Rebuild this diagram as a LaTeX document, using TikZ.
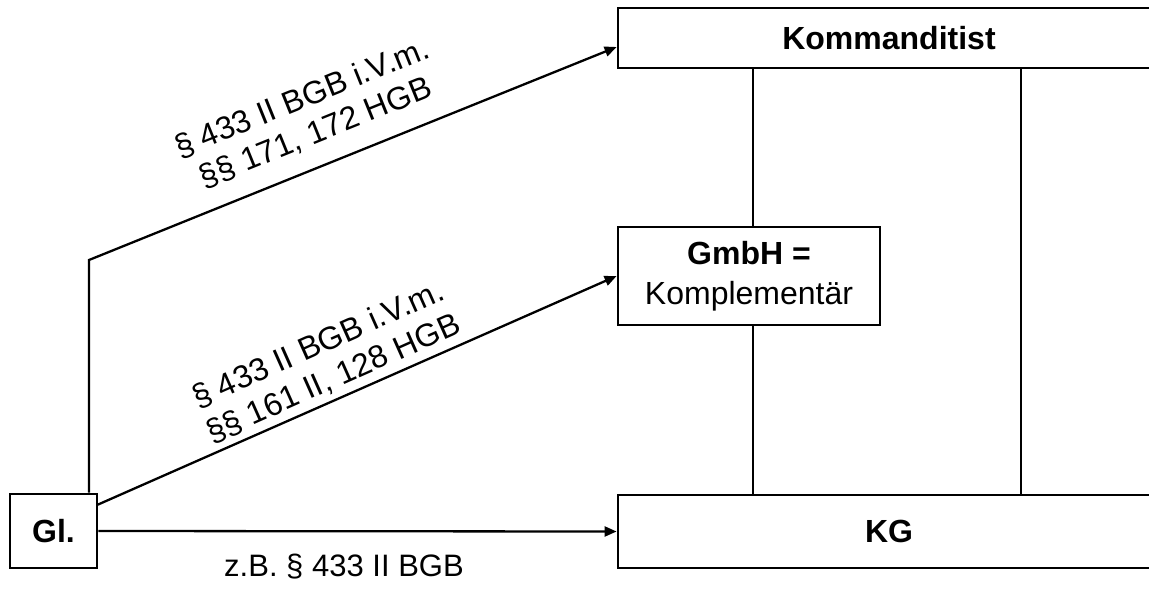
\documentclass[tikz,border=0pt]{standalone}
\usepackage{fontspec}
\setmainfont{Liberation Sans}
\usetikzlibrary{arrows.meta}
\begin{document}
\begin{tikzpicture}[x=1pt,y=-1pt,
  box/.style={draw, line width=2.8pt, inner sep=0pt, align=center, font=\fontsize{32}{40}\selectfont},
  conn/.style={line width=2.3pt},
  arr/.style={line width=2.3pt, -{Triangle[length=12pt,width=10pt]}},
  lbl/.style={align=center, font=\fontsize{32}{37}\selectfont, inner sep=0pt}]
\useasboundingbox (0,0) rectangle (1149,592);
\node[box, minimum width=87pt, minimum height=74pt] (gl) at (53.5,531) {\textbf{Gl.}};
\node[box, minimum width=542pt, minimum height=60pt] (kom) at (889,38) {\textbf{Kommanditist}};
\node[box, minimum width=262pt, minimum height=98pt] (gmbh) at (749,276) {\textbf{GmbH =}\\Komplementär};
\node[box, minimum width=542pt, minimum height=73pt] (kg) at (889,531.5) {\textbf{KG}};
\coordinate (c1) at (753,0);
\coordinate (c2) at (1021,0);
\coordinate (bend) at (89,260);
\coordinate (glne) at (97,505);
\draw[conn] (kom.south -| c1) -- (gmbh.north -| c1);
\draw[conn] (gmbh.south -| c1) -- (kg.north -| c1);
\draw[conn] (kom.south -| c2) -- (kg.north -| c2);
\draw[arr] (gl.north -| bend) -- (bend) -- ([yshift=-9pt]kom.west);
\draw[arr] (glne) -- (gmbh.west);
\draw[arr] (gl.east) -- (kg.west);
\node[lbl, rotate=22] (l1) at (309,116) {§ 433 II BGB i.V.m.\\§§ 171, 172 HGB};
\node[lbl, rotate=24] (l2) at (326,362) {§ 433 II BGB i.V.m.\\§§ 161 II, 128 HGB};
\node[lbl, font=\fontsize{31}{35}\selectfont] (l3) at (344,567) {z.B. § 433 II BGB};
\end{tikzpicture}
\end{document}
